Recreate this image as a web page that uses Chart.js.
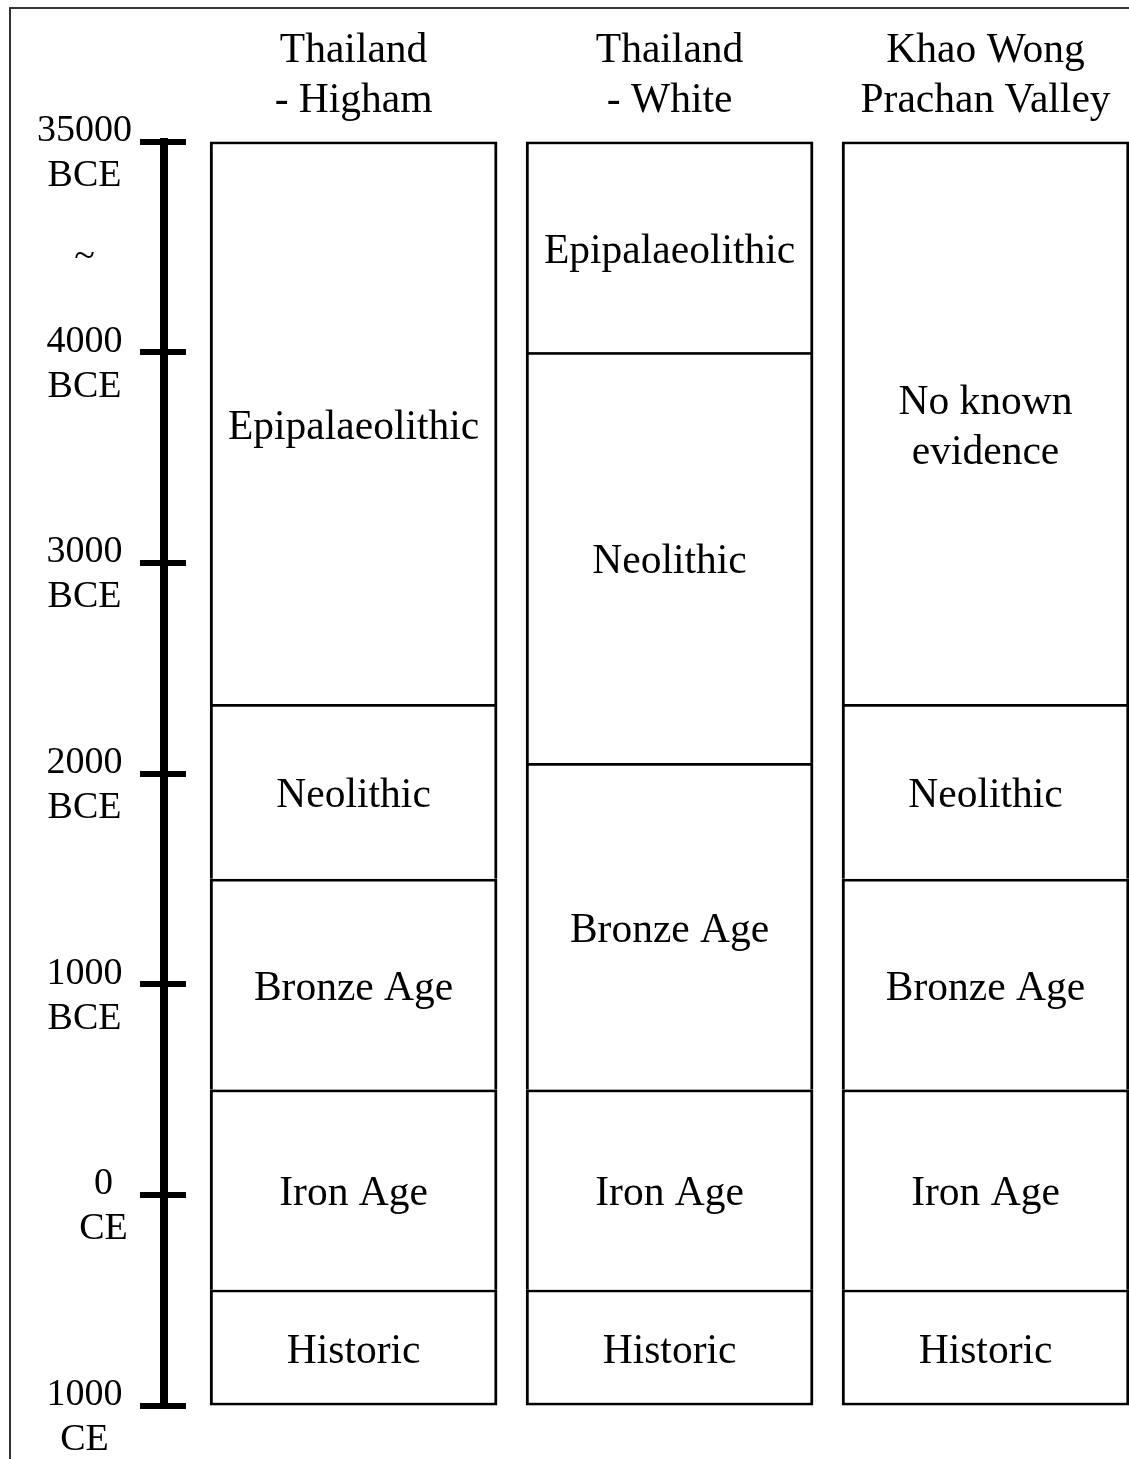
<!DOCTYPE html>
<html>
<head>
<meta charset="utf-8">
<script src="https://cdn.jsdelivr.net/npm/chart.js"></script>
<style>
  html, body { margin: 0; padding: 0; background: #fff; overflow: hidden; }
  #wrap { position: relative; width: 1129px; height: 1459px; }
  #frame { position: absolute; left: 9px; top: 7px; width: 1200px; height: 1500px;
           border-left: 2px solid #333; border-top: 2px solid #333; pointer-events: none; }
  canvas { position: absolute; left: 0; top: 0; }
</style>
</head>
<body>
<div id="wrap">
  <canvas id="chart" width="1129" height="1459"></canvas>
  <div id="frame"></div>
</div>
<script>
// Columns (sequences) shown side by side
const columns = [['Thailand', '- Higham'], ['Thailand', '- White'], ['Khao Wong', 'Prachan Valley']];

// Period names, top to bottom
const periods = ['Epipalaeolithic', 'No known\nevidence', 'Neolithic', 'Bronze Age', 'Iron Age', 'Historic'];

// [start, end] per column, on the timeline scale (-5000 stands for 35000 BCE)
const epipalaeolithic = [[-5000, -2330], [-5000, -4000], null];
const noKnownEvidence = [null, null, [-5000, -2330]];
const neolithic = [[-2330, -1500], [-4000, -2050], [-2330, -1500]];
const bronzeAge = [[-1500, -500], [-2050, -500], [-1500, -500]];
const ironAge = [[-500, 450], [-500, 450], [-500, 450]];
const historic = [[450, 1000], [450, 1000], [450, 1000]];

// Timeline ticks
const yTickValues = [-5000, -4510, -4000, -3000, -2000, -1000, 0, 1000];
const yTickLabels = [['35000', 'BCE'], '~', ['4000', 'BCE'], ['3000', 'BCE'], ['2000', 'BCE'],
  ['1000', 'BCE'], ['\u00a0\u00a0\u00a0\u00a00', '\u00a0\u00a0\u00a0\u00a0CE'], ['1000', 'CE']];

const ranges = [epipalaeolithic, noKnownEvidence, neolithic, bronzeAge, ironAge, historic];
const SERIF = '"Liberation Serif", "Times New Roman", serif';

Chart.defaults.color = '#000';
Chart.defaults.font.family = SERIF;

const datasets = ranges.map((arr, d) => ({
  label: periods[d],
  data: arr.map((v, i) => v ? { x: i, y: v } : null).filter(Boolean),
  backgroundColor: '#fff',
  borderColor: '#000',
  borderSkipped: false,
  borderWidth: { top: 3, left: 3, right: 3, bottom: d === ranges.length - 1 ? 3 : 0 },
  grouped: false,
  barThickness: 287
}));

// period names written in the middle of each box
const boxLabels = {
  id: 'boxLabels',
  afterDatasetsDraw(chart) {
    const ctx = chart.ctx;
    ctx.save();
    ctx.font = '41.5px ' + SERIF;
    ctx.fillStyle = '#000';
    ctx.textAlign = 'center';
    ctx.textBaseline = 'middle';
    chart.data.datasets.forEach((ds, d) => {
      const lines = ds.label.split('\n');
      chart.getDatasetMeta(d).data.forEach(el => {
        const cy = (el.y + el.base) / 2 + 5;
        lines.forEach((t, k) => {
          ctx.fillText(t, el.x, cy + (k - (lines.length - 1) / 2) * 50);
        });
      });
    });
    ctx.restore();
  }
};

// right half of the axis tick marks (the left half is the scale's own tick)
const tickStubs = {
  id: 'tickStubs',
  afterDraw(chart) {
    const s = chart.scales.y;
    const ctx = chart.ctx;
    ctx.save();
    ctx.strokeStyle = '#000';
    ctx.lineWidth = 6;
    s.ticks.forEach((t, i) => {
      if (yTickLabels[i] === '~') return;
      const y = Math.round(s.getPixelForValue(t.value));
      ctx.beginPath();
      ctx.moveTo(s.right + 3, y);
      ctx.lineTo(s.right + 22, y);
      ctx.stroke();
    });
    ctx.restore();
  }
};

new Chart(document.getElementById('chart'), {
  type: 'bar',
  data: { datasets },
  options: {
    responsive: false,
    animation: false,
    devicePixelRatio: 1,
    layout: { padding: { left: 0, right: 0, top: 0, bottom: 53.5 } },
    plugins: { legend: { display: false }, tooltip: { enabled: false } },
    scales: {
      x: {
        type: 'linear',
        position: 'top',
        offset: false,
        min: -0.6,
        max: 2.454,
        afterBuildTicks: s => { s.ticks = columns.map((c, i) => ({ value: i })); },
        afterFit: s => { s.height = 141.5; },
        grid: { display: false, offset: false },
        border: { display: false },
        ticks: {
          callback: (v, i) => columns[i],
          padding: 7.5,
          maxRotation: 0,
          autoSkip: false,
          font: { size: 41.5, lineHeight: 1.2 }
        }
      },
      y: {
        type: 'linear',
        reverse: true,
        min: -5000,
        max: 1000,
        afterBuildTicks: s => { s.ticks = yTickValues.map(v => ({ value: v })); },
        afterFit: s => { s.width = 164; },
        grid: {
          drawOnChartArea: false,
          drawTicks: true,
          tickLength: 24,
          lineWidth: 6,
          color: c => (c.tick && c.index === 1) ? 'rgba(0,0,0,0)' : '#000'
        },
        border: { display: true, width: 8, color: '#000' },
        ticks: {
          callback: (v, i) => yTickLabels[i],
          crossAlign: 'center',
          padding: 8,
          labelOffset: 12,
          autoSkip: false,
          font: { size: 38, lineHeight: 1.19 }
        }
      }
    }
  },
  plugins: [boxLabels, tickStubs]
});
</script>
</body>
</html>
